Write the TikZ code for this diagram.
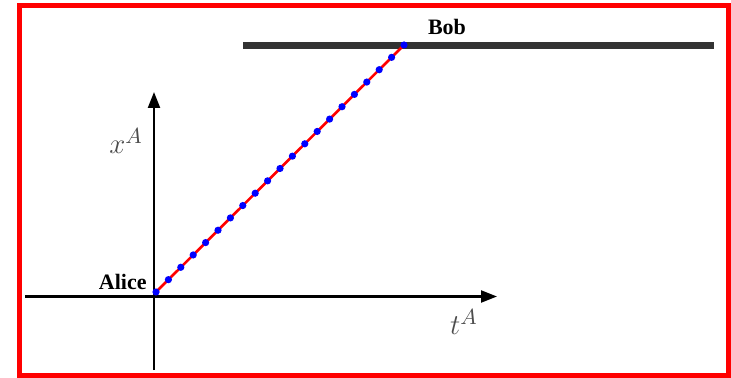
\documentclass[tikz,border=0pt]{standalone}
\usepackage{fontspec}
\setmainfont{Liberation Serif}
\usepackage{tikz}
\usetikzlibrary{arrows.meta,calc}

\begin{document}
\begin{tikzpicture}[
    x=0.5pt,y=-0.5pt,
    axis/.style={line width=1.1pt,-{Triangle[length=8pt,width=6pt]}},
    world/.style={line width=3.5pt,black!80},
    person/.style={font=\fontsize{11}{13}\selectfont\bfseries,inner sep=0pt},
    axlabel/.style={font=\fontsize{15}{17}\selectfont,text=black!70,inner sep=0pt},
    signal/.style={line width=1.3pt,red},
    pulse/.style={blue}
]
% frame
\useasboundingbox (0,0) rectangle (731,378);
\draw[red,line width=2.6pt] (19.5,5.5) rectangle (729,376);

% axes of Alice
\coordinate (origin) at (154,296.5);
\coordinate (tleft) at (25,296.5);
\coordinate (tright) at (497,296.5);
\coordinate (xlow) at (154,370);
\coordinate (xhigh) at (154,92);
\draw[axis] (tleft) -- (tright);
\draw[axis] (xlow) -- (xhigh);
\node[axlabel] (xlab) at (126,141) {$x^A$};
\node[axlabel] (tlab) at (464,322) {$t^A$};

% Bob's worldline
\coordinate (bobleft) at (243,45.5);
\coordinate (bobright) at (714,45.5);
\draw[world] (bobleft) -- (bobright);
\node[person] (bob) at (447,27) {Bob};
\node[person,anchor=south east] (alice) at (147,290) {Alice};

% signal from Alice to Bob
\coordinate (emit) at (156,292);
\coordinate (meet) at (404,45);
\draw[signal] (emit) -- (meet);
\foreach \i in {0,...,20}
  \fill[pulse] ($(emit)!\i/20!(meet)$) circle (1.8pt);
\end{tikzpicture}
\end{document}
